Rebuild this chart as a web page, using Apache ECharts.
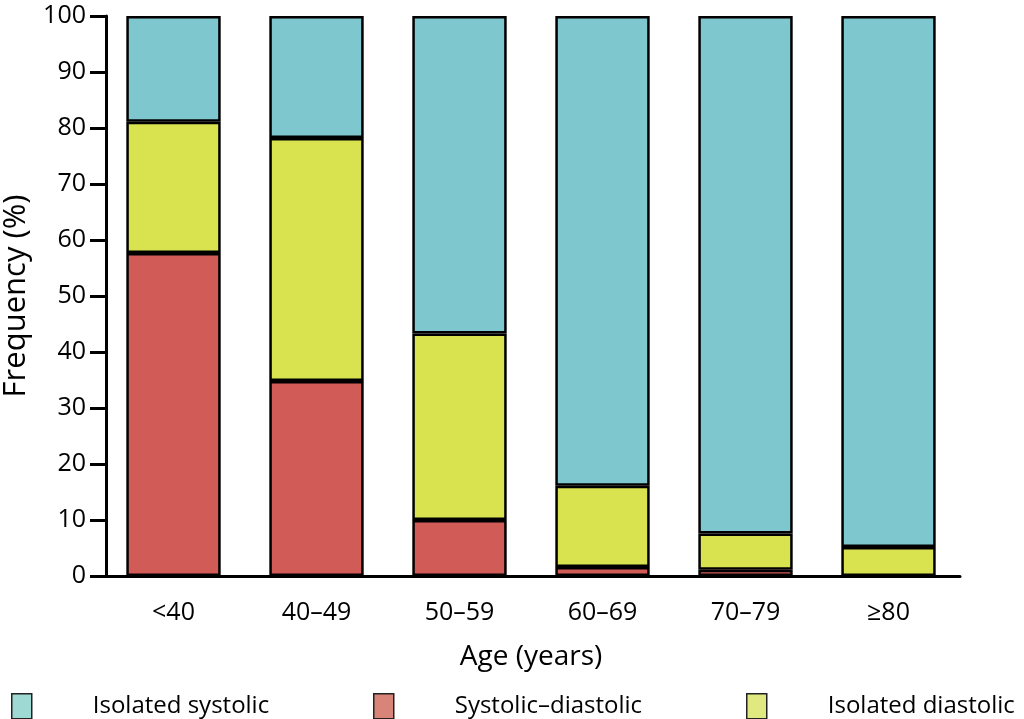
<!DOCTYPE html>
<html><head><meta charset="utf-8">
<script src="https://cdn.jsdelivr.net/npm/echarts@6/dist/echarts.min.js"></script>
<style>html,body{margin:0;padding:0;background:#fff}#c{width:1024px;height:719px}</style>
</head><body><div id="c"></div>
<script>
const categories = ['<40', '40–49', '50–59', '60–69', '70–79', '≥80'];
const systolicDiastolic = [57.7, 34.8, 10.0, 1.6, 1.1, 0];
const isolatedDiastolic = [23.4, 43.4, 33.3, 14.5, 6.5, 5.2];
const isolatedSystolic = [18.9, 21.8, 56.7, 83.9, 92.4, 94.8];
const yTicks = [0, 10, 20, 30, 40, 50, 60, 70, 80, 90, 100];

const FONT = 'Open Sans';
const colors = { sys: '#7fc7cf', sd: '#d15b57', dia: '#d9e350' };
const legendColors = { sys: '#9fd9d3', sd: '#d98479', dia: '#dfe97f' };
const chart = echarts.init(document.getElementById('c'), null, { renderer: 'canvas' });
const barStyle = c => ({ color: c, borderColor: '#000', borderWidth: 2.5 });
function legend(name, color, left) {
  return {
    data: [{ name: name, icon: 'rect', itemStyle: { color: color } }], left: left, top: 688, orient: 'horizontal',
    itemWidth: 20, itemHeight: 25, selectedMode: false,
    itemStyle: { borderColor: '#222', borderWidth: 1.5 },
    textStyle: { fontFamily: FONT, fontSize: 24, color: '#000', padding: [0, 0, 0, 56] }
  };
}
chart.setOption({
  animation: false,
  grid: { left: 102, width: 858, top: 16, height: 560, containLabel: false, outerBoundsMode: 'none' },
  legend: [
    legend('Isolated systolic', legendColors.sys, 6),
    legend('Systolic–diastolic', legendColors.sd, 368),
    legend('Isolated diastolic', legendColors.dia, 741)
  ],
  xAxis: {
    type: 'category', data: categories,
    name: 'Age (years)', nameLocation: 'middle', nameGap: 67,
    nameTextStyle: { fontFamily: FONT, fontSize: 28, color: '#000' },
    axisLine: { lineStyle: { color: '#000', width: 3 } },
    axisTick: { alignWithLabel: true, length: 16, lineStyle: { width: 3, color: '#000' } },
    axisLabel: { fontFamily: FONT, fontSize: 25, color: '#000', margin: 24 }
  },
  yAxis: {
    type: 'value', min: yTicks[0], max: yTicks[yTicks.length - 1], interval: 10, offset: -4,
    name: 'Frequency (%)', nameLocation: 'middle', nameGap: 74,
    nameTextStyle: { fontFamily: FONT, fontSize: 31, color: '#000' },
    axisLine: { show: true, lineStyle: { color: '#000', width: 3 } },
    axisTick: { show: true, length: 16, lineStyle: { width: 3, color: '#000' } },
    axisLabel: { fontFamily: FONT, fontSize: 25, color: '#000', margin: 20 },
    splitLine: { show: false }
  },
  series: [
    { name: 'Systolic–diastolic', type: 'bar', stack: 'a', data: systolicDiastolic, itemStyle: barStyle(colors.sd), barCategoryGap: '34%' },
    { name: 'Isolated diastolic', type: 'bar', stack: 'a', data: isolatedDiastolic, itemStyle: barStyle(colors.dia) },
    { name: 'Isolated systolic', type: 'bar', stack: 'a', data: isolatedSystolic, itemStyle: barStyle(colors.sys) }
  ]
});
</script></body></html>
